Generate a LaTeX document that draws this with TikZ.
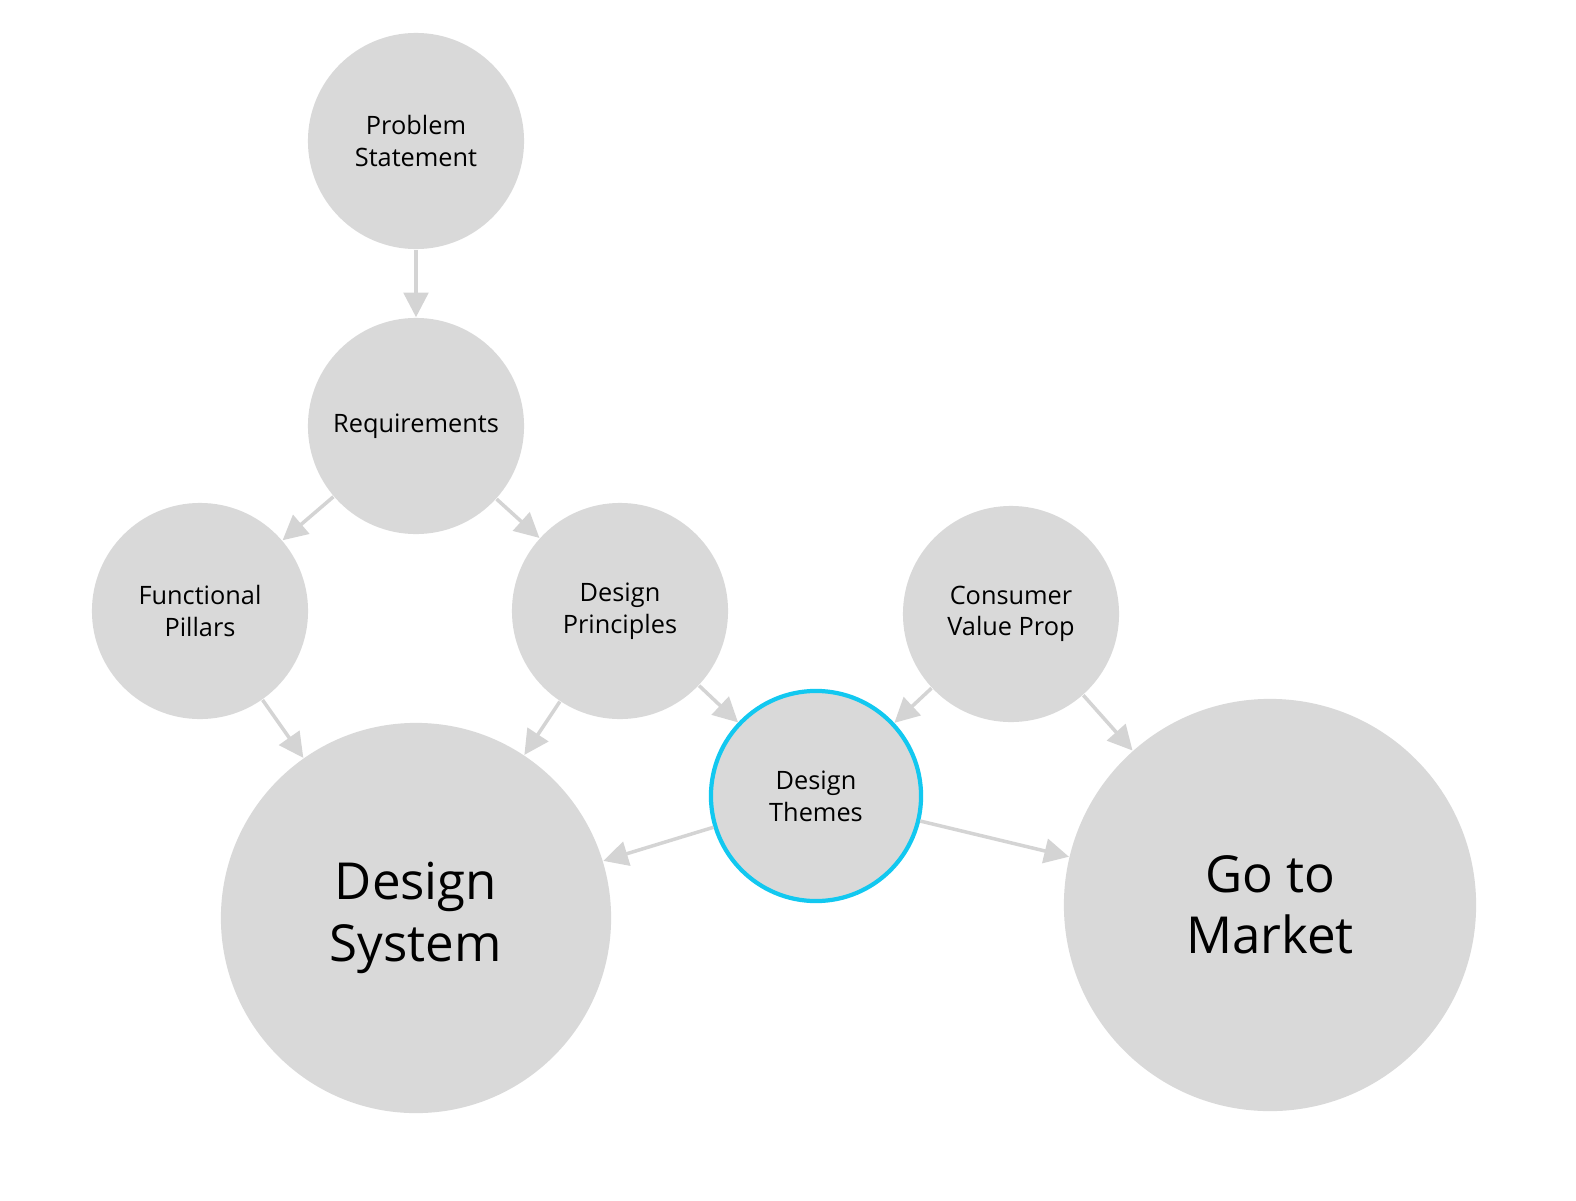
\documentclass[tikz,border=0pt]{standalone}
\usepackage{fontspec}
\setmainfont{Open Sans}
\usetikzlibrary{arrows.meta}
\definecolor{bubble}{HTML}{D9D9D9}
\definecolor{link}{HTML}{D4D4D4}
\definecolor{focus}{HTML}{12C8F0}

\begin{document}
\begin{tikzpicture}[x=0.01cm,y=-0.01cm,
    bubble/.style={circle, fill=bubble, inner sep=0pt, align=center, font=\fontsize{7.2}{9}\selectfont},
    big/.style={bubble, font=\fontsize{14.5}{17.5}\selectfont},
    link/.style={draw=link, line width=1pt, -{Triangle[length=7pt,width=7pt]}}]
    \useasboundingbox (0,0) rectangle (1576,1200);

    % Draw the bubbles
    \node[bubble, minimum size=2.16cm] (ps) at (416,141) {Problem\\Statement};
    \node[bubble, minimum size=2.16cm] (req) at (416,426) {Requirements};
    \node[bubble, minimum size=2.16cm] (fp) at (200,611) {Functional\\Pillars};
    \node[bubble, minimum size=2.16cm] (dp) at (620,611) {Design\\Principles};
    \node[bubble, minimum size=2.16cm] (cvp) at (1011,614) {Consumer\\Value Prop};
    \node[bubble, minimum size=2.1cm, draw=focus, line width=1.2pt] (dt) at (816,796) {Design\\Themes};
    \node[big, minimum size=3.9cm] (ds) at (416,918) {Design\\System};
    \node[big, minimum size=4.12cm] (gtm) at (1270,905) {Go to\\Market};

    % Draw the links
    \foreach \a/\b in {ps/req, req/fp, req/dp, fp/ds, dp/ds, dp/dt, cvp/dt, cvp/gtm, dt/ds, dt/gtm}
        \draw[link] (\a) -- (\b);
\end{tikzpicture}
\end{document}
